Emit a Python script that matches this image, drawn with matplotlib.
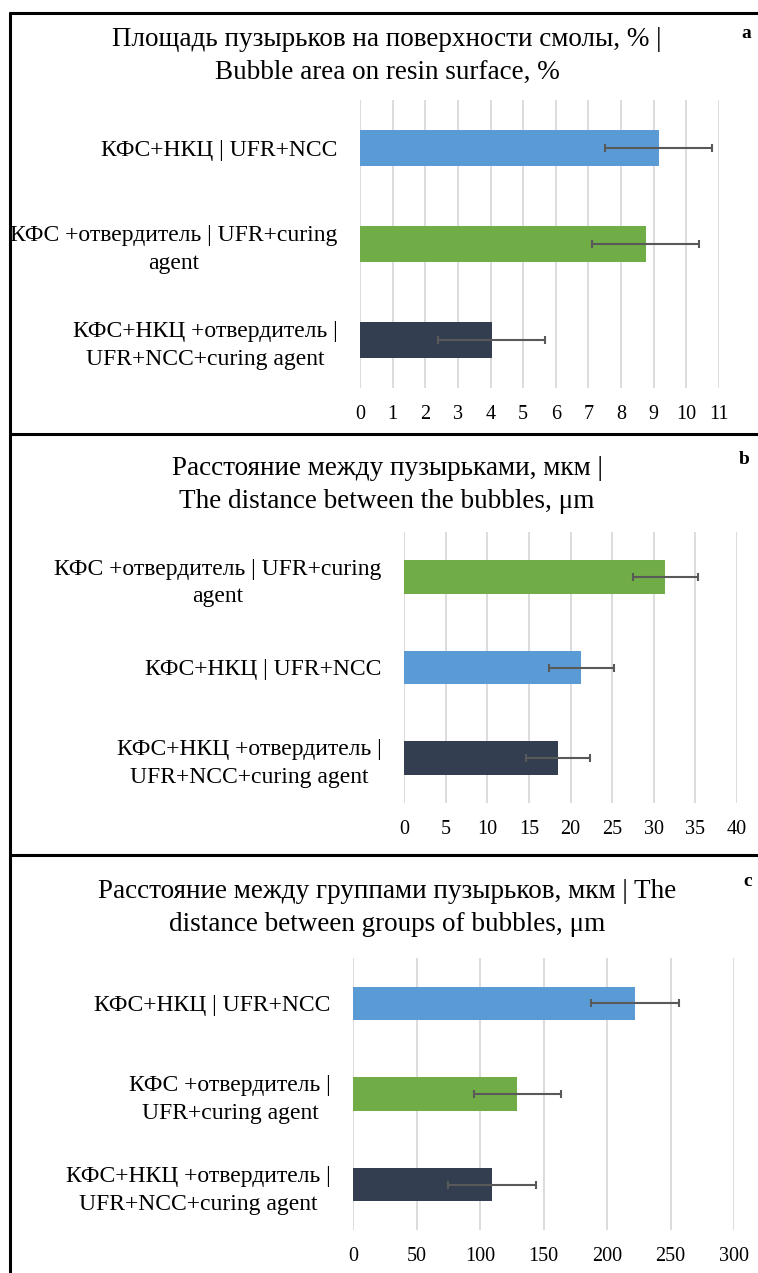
"""Bubble metrics on cured resin surface: three stacked horizontal bar panels."""
import matplotlib
matplotlib.use("Agg")
import matplotlib.pyplot as plt
from matplotlib.lines import Line2D

W, H = 758, 1273

NCC = "КФС+НКЦ | UFR+NCC"
CURE_WIDE = "КФС +отвердитель | UFR+curing\nagent"
CURE_NARROW = "КФС +отвердитель |\nUFR+curing agent"
BOTH = "КФС+НКЦ +отвердитель |\nUFR+NCC+curing agent"

# panel a: bubble area, %
area_labels = [NCC, CURE_WIDE, BOTH]
area_values = [9.15, 8.75, 4.03]
area_err = [1.64, 1.65, 1.64]
area_kind = ["ncc", "cure", "both"]

# panel b: distance between bubbles, um
dist_labels = [CURE_WIDE, NCC, BOTH]
dist_values = [31.4, 21.3, 18.5]
dist_err = [3.9, 3.9, 3.9]
dist_kind = ["cure", "ncc", "both"]

# panel c: distance between bubble groups, um
group_labels = [NCC, CURE_NARROW, BOTH]
group_values = [222, 129.5, 109.5]
group_err = [34.5, 34.5, 34.5]
group_kind = ["ncc", "cure", "both"]

COLORS = {"ncc": "#5b9bd5", "cure": "#70ad47", "both": "#333f50"}

plt.rcParams["font.family"] = ["Liberation Serif", "DejaVu Serif"]

fig = plt.figure(figsize=(W / 100, H / 100), dpi=100)


def px_axes(left, top, right, bottom):
    return fig.add_axes([left / W, 1 - bottom / H, (right - left) / W, (bottom - top) / H])


def panel(box, labels, values, err, kinds, xmax, step, title, title_y, letter, letter_xy):
    ax = px_axes(*box)
    pos = list(range(len(values)))
    ax.barh(pos, values, height=0.37, color=[COLORS[k] for k in kinds], zorder=2)
    ax.errorbar(values, pos, xerr=err, fmt="none", ecolor="#595959",
                elinewidth=1.5, capsize=2.8, capthick=1.5, zorder=3)
    ax.set_ylim(len(values) - 0.5, -0.5)
    ax.set_xlim(0, xmax)
    ax.set_xticks(range(0, xmax + 1, step))
    ax.set_yticks(pos)
    ax.set_yticklabels(labels, fontsize=17)
    for t in ax.get_yticklabels():
        t.set_multialignment("center")
        t.set_linespacing(1.4)
    ax.tick_params(axis="x", length=0, pad=12, labelsize=14.5)
    ax.tick_params(axis="y", length=0, pad=16)
    ax.grid(axis="x", color="#d9d9d9", linewidth=1.3, zorder=0)
    ax.set_axisbelow(True)
    for s in ax.spines.values():
        s.set_visible(False)
    fig.text(387 / W, 1 - title_y / H, title, ha="center", va="center",
             fontsize=19.5, linespacing=1.42)
    fig.text(letter_xy[0] / W, 1 - letter_xy[1] / H, letter, ha="center", va="center",
             fontsize=14, fontweight="bold")
    return ax


panel((360, 100, 719, 388), area_labels, area_values, area_err, area_kind, 11, 1,
      "Площадь пузырьков на поверхности смолы, % |\nBubble area on resin surface, %",
      56, "a", (746, 33))
panel((404, 532, 737, 803), dist_labels, dist_values, dist_err, dist_kind, 40, 5,
      "Расстояние между пузырьками, мкм |\nThe distance between the bubbles, μm",
      485, "b", (744, 460))
panel((353, 958, 734, 1230), group_labels, group_values, group_err, group_kind, 300, 50,
      "Расстояние между группами пузырьков, мкм | The\ndistance between groups of bubbles, μm",
      908, "c", (748, 882))

# panel frames
frame = dict(color="black", linewidth=2.2, transform=fig.transFigure, solid_capstyle="butt")
fig.add_artist(Line2D([10 / W, 10 / W], [1 - 12 / H, 0], **frame))
for y in (13, 434, 855):
    fig.add_artist(Line2D([9 / W, 1], [1 - y / H, 1 - y / H], **frame))

fig.savefig("out.png", dpi=100)
